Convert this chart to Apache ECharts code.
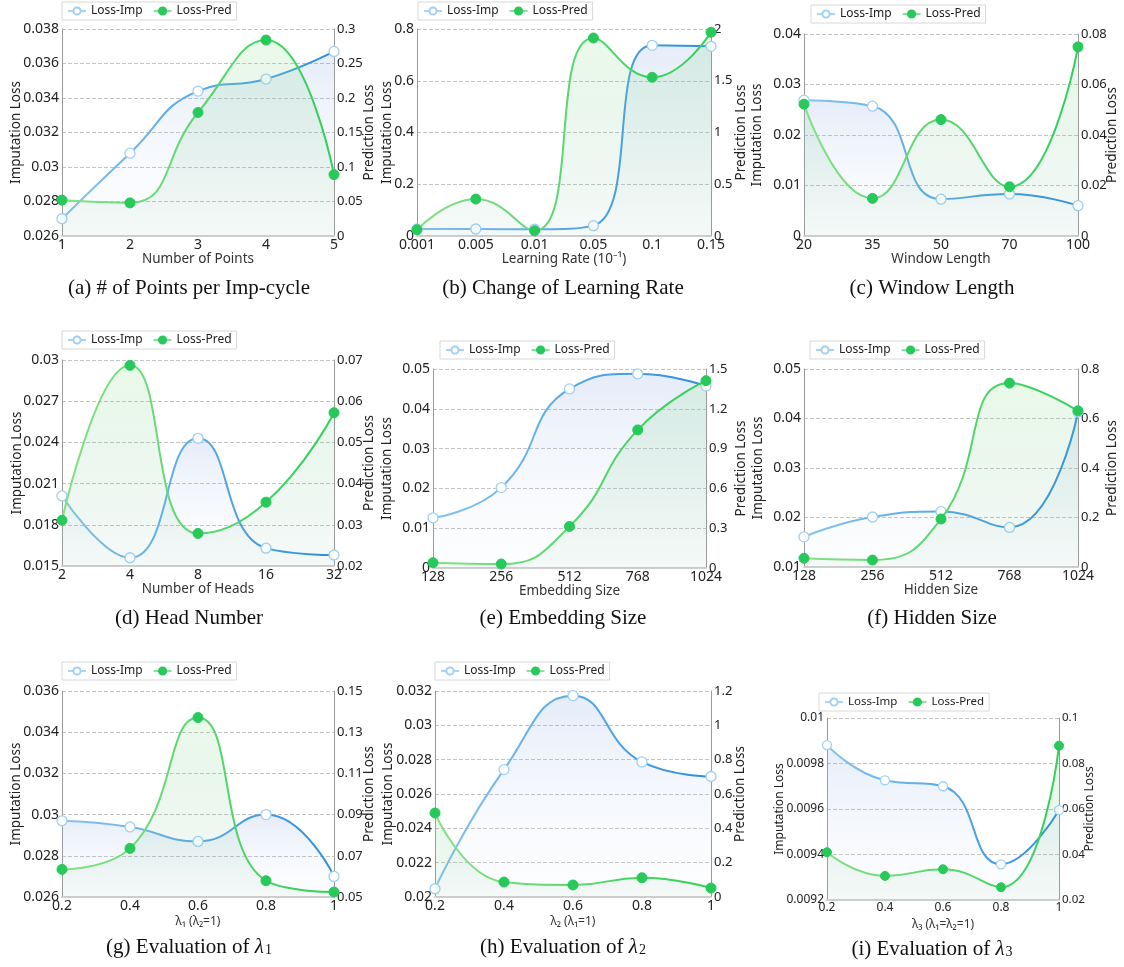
<!DOCTYPE html>
<html>
<head>
<meta charset="utf-8">
<script src="https://cdn.jsdelivr.net/npm/echarts@6.0.0/dist/echarts.min.js"></script>
<style>
  html, body { margin: 0; padding: 0; background: #fff; }
  #main { width: 1124px; height: 967px; }
</style>
</head>
<body>
<div id="main"></div>
<script>
// ---- data ----
var catA = ['1', '2', '3', '4', '5'];
var impA = [0.0270, 0.0308, 0.0344, 0.0351, 0.0367];
var predA = [0.052, 0.048, 0.179, 0.284, 0.089];

var catB = ['0.001', '0.005', '0.01', '0.05', '0.1', '0.15'];
var impB = [0.027, 0.027, 0.026, 0.040, 0.737, 0.733];
var predB = [0.061, 0.357, 0.051, 1.913, 1.533, 1.968];

var catC = ['20', '35', '50', '70', '100'];
var impC = [0.0269, 0.0257, 0.0073, 0.0083, 0.0060];
var predC = [0.0522, 0.0149, 0.0461, 0.0195, 0.0749];

var catD = ['2', '4', '8', '16', '32'];
var impD = [0.0201, 0.0156, 0.0243, 0.0163, 0.0158];
var predD = [0.0311, 0.0687, 0.0279, 0.0355, 0.0572];

var catE = ['128', '256', '512', '768', '1024'];
var impE = [0.0126, 0.0202, 0.0450, 0.0488, 0.0457];
var predE = [0.040, 0.030, 0.313, 1.041, 1.412];

var catF = ['128', '256', '512', '768', '1024'];
var impF = [0.0161, 0.0201, 0.0212, 0.0180, 0.0413];
var predF = [0.035, 0.028, 0.194, 0.743, 0.631];

var catG = ['0.2', '0.4', '0.6', '0.8', '1'];
var impG = [0.0297, 0.0294, 0.0287, 0.0300, 0.0270];
var predG = [0.0634, 0.0736, 0.1371, 0.0579, 0.0524];

var catH = ['0.2', '0.4', '0.6', '0.8', '1'];
var impH = [0.02048, 0.02742, 0.03173, 0.02787, 0.02702];
var predH = [0.489, 0.087, 0.070, 0.112, 0.052];

var catI = ['0.2', '0.4', '0.6', '0.8', '1'];
var impI = [0.009881, 0.009726, 0.009700, 0.009357, 0.009595];
var predI = [0.041, 0.0306, 0.0335, 0.0256, 0.0878];

// ---- panel layout ----
// box: [left, top, right, bottom] of the plot area; yL / yR: [min, max, interval]
var panels = [
  { cats: catA, imp: impA, pred: predA, xName: 'Number of Points', yL: [0.026, 0.038, 0.002], yR: [0, 0.3, 0.05],
    box: [62, 29, 334, 236], legend: [62, 2], caption: '(a) # of Points per Imp-cycle', cap: [189, 288], lGap: 39, rGap: 28 },
  { cats: catB, imp: impB, pred: predB, xName: 'Learning Rate (10⁻¹)', yL: [0, 0.8, 0.2], yR: [0, 2, 0.5],
    box: [417, 29, 711, 236], legend: [418, 2], caption: '(b) Change of Learning Rate', cap: [563, 288], lGap: 23, rGap: 23 },
  { cats: catC, imp: impC, pred: predC, xName: 'Window Length', yL: [0, 0.04, 0.01], yR: [0, 0.08, 0.02],
    box: [804, 34, 1078, 236], legend: [811, 5], caption: '(c) Window Length', cap: [932, 288], lGap: 40, rGap: 27 },
  { cats: catD, imp: impD, pred: predD, xName: 'Number of Heads', yL: [0.015, 0.03, 0.003], yR: [0.02, 0.07, 0.01],
    box: [62, 360, 334, 566], legend: [62, 331], caption: '(d) Head Number', cap: [189, 618], lGap: 38, rGap: 28 },
  { cats: catE, imp: impE, pred: predE, xName: 'Embedding Size', yL: [0, 0.05, 0.01], yR: [0, 1.5, 0.3],
    box: [433, 369, 706, 568], legend: [440, 341], caption: '(e) Embedding Size', cap: [563, 618], lGap: 39, rGap: 28 },
  { cats: catF, imp: impF, pred: predF, xName: 'Hidden Size', yL: [0.01, 0.05, 0.01], yR: [0, 0.8, 0.2],
    box: [804, 369, 1078, 567], legend: [810, 341], caption: '(f) Hidden Size', cap: [932, 618], lGap: 39, rGap: 27 },
  { cats: catG, imp: impG, pred: predG, xName: 'λ₁ (λ₂=1)', yL: [0.026, 0.036, 0.002], yR: [0.05, 0.15, 0.02],
    box: [62, 691, 334, 897], legend: [62, 662], caption: '(g) Evaluation of {l|λ}{s|1}', cap: [189, 947], lGap: 39, rGap: 28, small: true },
  { cats: catH, imp: impH, pred: predH, xName: 'λ₂ (λ₁=1)', yL: [0.02, 0.032, 0.002], yR: [0, 1.2, 0.2],
    box: [435, 691, 711, 897], legend: [435, 662], caption: '(h) Evaluation of {l|λ}{s|2}', cap: [563, 947], lGap: 40, rGap: 22, small: true },
  { cats: catI, imp: impI, pred: predI, xName: 'λ₃ (λ₁=λ₂=1)', yL: [0.0092, 0.01, 0.0002], yR: [0.02, 0.1, 0.02],
    box: [827, 718, 1059, 900], legend: [819, 693], caption: '(i) Evaluation of {l|λ}{s|3}', cap: [932, 949], lGap: 41, rGap: 25, tiny: true }
];

var FONT = 'Noto Sans';
var myChart = echarts.init(document.getElementById('main'));

function hGrad(a, b) {
  return new echarts.graphic.LinearGradient(0, 0, 1, 0, [{ offset: 0, color: a }, { offset: 1, color: b }]);
}
function vGrad(a, b) {
  return new echarts.graphic.LinearGradient(0, 0, 0, 1, [{ offset: 0, color: a }, { offset: 1, color: b }]);
}

var option = {
  animation: false,
  backgroundColor: '#fff',
  grid: [], xAxis: [], yAxis: [], legend: [], series: [], graphic: []
};

panels.forEach(function (p, i) {
  var tickSize = p.tiny ? 12 : 14;
  var rTickSize = p.tiny ? 11.5 : 13;
  var nameSize = p.tiny ? 12 : 13.5;
  var xNameSize = p.small || p.tiny ? 12 : 13.5;

  option.grid.push({
    left: p.box[0], top: p.box[1],
    width: p.box[2] - p.box[0], height: p.box[3] - p.box[1]
  });

  option.xAxis.push({
    type: 'category', gridIndex: i, data: p.cats, boundaryGap: false,
    name: p.xName, nameLocation: 'middle', nameGap: p.small || p.tiny ? 19 : 16,
    nameMoveOverlap: false,
    nameTextStyle: { color: '#333', fontSize: xNameSize, fontFamily: FONT },
    axisLine: { lineStyle: { color: '#cfcfcf', width: 2 } },
    axisTick: { show: false },
    axisLabel: { color: '#222', fontSize: tickSize, fontFamily: FONT, margin: 2 },
    splitLine: { show: false }
  });

  option.yAxis.push({
    type: 'value', gridIndex: i, position: 'left',
    min: p.yL[0], max: p.yL[1], interval: p.yL[2],
    name: 'Imputation Loss', nameLocation: 'middle', nameRotate: 90, nameGap: p.lGap,
    nameMoveOverlap: false,
    nameTextStyle: { color: '#222', fontSize: nameSize, fontFamily: FONT },
    axisLine: { show: true, lineStyle: { color: '#9a9a9a' } },
    axisTick: { show: false },
    axisLabel: { color: '#222', fontSize: tickSize, fontFamily: FONT, margin: 3 },
    splitLine: { show: true, lineStyle: { color: '#c4c4c4', type: 'dashed' } }
  });
  option.yAxis.push({
    type: 'value', gridIndex: i, position: 'right',
    min: p.yR[0], max: p.yR[1], interval: p.yR[2],
    name: 'Prediction Loss', nameLocation: 'middle', nameRotate: 90, nameGap: p.rGap,
    nameMoveOverlap: false,
    nameTextStyle: { color: '#222', fontSize: nameSize, fontFamily: FONT },
    axisLine: { show: true, lineStyle: { color: '#9a9a9a' } },
    axisTick: { show: false },
    axisLabel: { color: '#222', fontSize: rTickSize, fontFamily: FONT, margin: 3 },
    splitLine: { show: false }
  });

  option.legend.push({
    left: p.legend[0], top: p.legend[1],
    orient: 'horizontal',
    data: [
      { name: 'Loss-Imp', lineStyle: { color: '#a9d4f4' } },
      { name: 'Loss-Pred', lineStyle: { color: '#8fdf9c' } }
    ],
    itemWidth: 18, itemHeight: 9, itemGap: 10,
    padding: [3, 5], borderColor: '#d8d8d8', borderWidth: 1,
    selectedMode: false,
    textStyle: { color: '#222', fontSize: p.tiny ? 11.5 : 12, fontFamily: FONT }
  });

  option.series.push({
    name: 'Loss-Imp', type: 'line', xAxisIndex: i, yAxisIndex: 2 * i,
    data: p.imp, smooth: true,
    symbol: 'circle', symbolSize: p.tiny ? 9 : 10,
    itemStyle: { color: '#fff', borderColor: '#9fd0f5', borderWidth: 1.3 },
    lineStyle: { width: 2, color: hGrad('#86c4f0', '#2a8ee0') },
    areaStyle: { color: vGrad('rgba(125,160,225,0.28)', 'rgba(205,218,240,0.04)') },
    z: 2
  });
  option.series.push({
    name: 'Loss-Pred', type: 'line', xAxisIndex: i, yAxisIndex: 2 * i + 1,
    data: p.pred, smooth: true,
    symbol: 'circle', symbolSize: p.tiny ? 9 : 10,
    itemStyle: { color: '#27c95a', borderColor: '#27c95a', borderWidth: 1 },
    lineStyle: { width: 2, color: hGrad('#86e086', '#2fcf58') },
    areaStyle: { color: vGrad('rgba(150,228,150,0.30)', 'rgba(70,160,120,0.07)') },
    z: 3
  });

  option.graphic.push({
    type: 'text', x: p.cap[0], y: p.cap[1],
    style: {
      text: p.caption,
      fontFamily: 'Liberation Serif', fontSize: 21, fill: '#111',
      align: 'center', verticalAlign: 'middle',
      rich: {
        l: { fontFamily: 'Liberation Serif', fontStyle: 'italic', fontSize: 21, fill: '#111' },
        s: { fontFamily: 'Liberation Serif', fontSize: 14, fill: '#111', verticalAlign: 'bottom', padding: [0, 0, 0, 1] }
      }
    }
  });
});

myChart.setOption(option);
</script>
</body>
</html>
